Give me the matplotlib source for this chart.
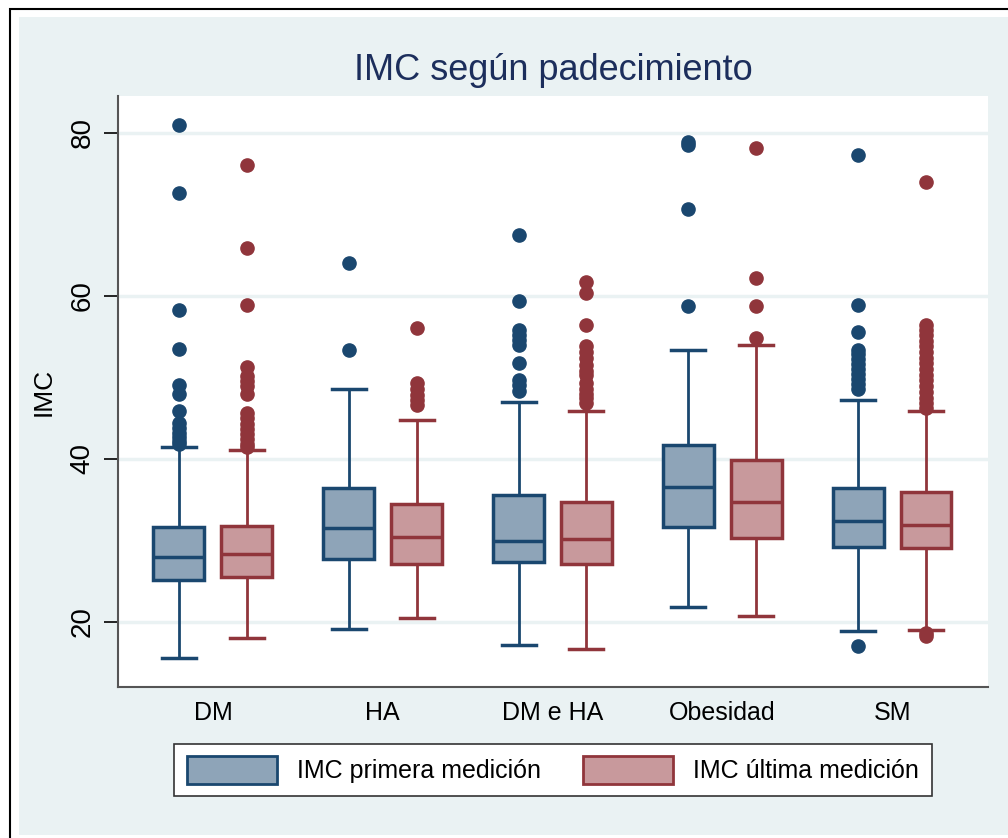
import matplotlib
matplotlib.use("Agg")
import matplotlib.pyplot as plt
from matplotlib.patches import Patch, Rectangle

plt.rcParams['font.family'] = ['Liberation Sans', 'DejaVu Sans']

grupos = ['DM', 'HA', 'DM e HA', 'Obesidad', 'SM']

# IMC primera medicion (box stats)
q1_primera = [25.1, 27.7, 27.3, 31.6, 29.2]
med_primera = [28.0, 31.5, 29.9, 36.5, 32.4]
q3_primera = [31.6, 36.4, 35.6, 41.7, 36.4]
lo_primera = [15.5, 19.1, 17.2, 21.8, 18.9]
hi_primera = [41.4, 48.6, 47.0, 53.3, 47.2]
out_primera = [
    [81.0, 72.6, 58.2, 53.5, 49.0, 47.9, 45.9, 44.4, 43.8, 43.2, 42.7, 42.2, 41.8],
    [64.0, 53.3],
    [67.4, 59.4, 55.8, 55.2, 54.6, 54.0, 51.7, 49.7, 49.0, 48.3],
    [78.8, 78.5, 70.6, 58.7],
    [77.3, 58.9, 55.6, 53.4, 52.8, 52.2, 51.6, 51.0, 50.4, 49.8, 49.2, 48.5, 17.0],
]

# IMC ultima medicion
q1_ultima = [25.5, 27.1, 27.1, 30.3, 29.1]
med_ultima = [28.3, 30.4, 30.1, 34.7, 31.9]
q3_ultima = [31.7, 34.4, 34.7, 39.9, 35.9]
lo_ultima = [18.0, 20.5, 16.7, 20.7, 19.0]
hi_ultima = [41.1, 44.8, 45.8, 54.0, 45.8]
out_ultima = [
    [76.0, 65.9, 58.8, 51.2, 50.1, 49.5, 48.9, 47.9, 45.6, 45.0, 44.3, 43.6, 43.0, 42.4, 41.8, 41.4],
    [56.0, 49.3, 48.5, 47.8, 47.2, 46.6],
    [61.7, 60.3, 56.4, 53.8, 53.1, 52.3, 51.5, 50.8, 50.3, 49.3, 48.6, 48.0, 47.4, 46.9],
    [78.1, 62.2, 58.7, 54.8],
    [74.0, 56.4, 55.8, 55.2, 54.5, 53.8, 53.1, 52.4, 51.7, 51.0, 50.3, 49.6, 48.9,
     48.2, 47.5, 46.8, 46.2, 18.6, 18.3],
]

azul, azul_fill = '#1a476f', '#8ea4b8'
rojo, rojo_fill = '#90353b', '#c8999c'
fondo = '#eaf2f3'


def stats(q1, med, q3, lo, hi, out):
    return [dict(q1=a, med=b, q3=c, whislo=d, whishi=e, fliers=f)
            for a, b, c, d, e, f in zip(q1, med, q3, lo, hi, out)]


fig = plt.figure(figsize=(10.08, 8.38), dpi=100)
fig.patches.append(Rectangle((10 / 1008, -0.01), 1.1, 1 - 9 / 838 + 0.01, transform=fig.transFigure,
                             facecolor='white', edgecolor='black', lw=1.5, zorder=-3))
fig.patches.append(Rectangle((19 / 1008, 1 - 835 / 838), 1.0, (835 - 17) / 838, transform=fig.transFigure,
                             facecolor=fondo, edgecolor='none', zorder=-2))

ax = fig.add_axes([118 / 1008, 1 - 687 / 838, 870 / 1008, (687 - 96) / 838])
ax.set_facecolor('white')

centros = list(range(1, len(grupos) + 1))
for st, pos, col, fill in [
    (stats(q1_primera, med_primera, q3_primera, lo_primera, hi_primera, out_primera),
     [c - 0.2 for c in centros], azul, azul_fill),
    (stats(q1_ultima, med_ultima, q3_ultima, lo_ultima, hi_ultima, out_ultima),
     [c + 0.2 for c in centros], rojo, rojo_fill),
]:
    ax.bxp(st, positions=pos, widths=0.3, capwidths=0.2, patch_artist=True,
           manage_ticks=False,
           boxprops=dict(facecolor=fill, edgecolor=col, linewidth=2.5),
           medianprops=dict(color=col, linewidth=2.5),
           whiskerprops=dict(color=col, linewidth=2),
           capprops=dict(color=col, linewidth=2.5),
           flierprops=dict(marker='o', markerfacecolor=col, markeredgecolor=col,
                           markersize=9.5, linestyle='none'))

ax.set_xlim(0.441, 5.565)
ax.set_ylim(12.0, 84.5)
ax.set_xticks(centros)
ax.set_xticklabels(grupos, fontsize=18)
ax.tick_params(axis='x', length=0, pad=10)
ax.set_yticks([20, 40, 60, 80])
ax.set_yticklabels(['20', '40', '60', '80'], rotation=90, va='center', fontsize=20)
ax.tick_params(axis='y', length=10, width=1.2, pad=6)
ax.yaxis.grid(True, color=fondo, linewidth=2.5)
ax.set_axisbelow(True)
for s in ['top', 'right']:
    ax.spines[s].set_visible(False)
for s in ['left', 'bottom']:
    ax.spines[s].set_color('#555555')
    ax.spines[s].set_linewidth(1.5)
ax.set_ylabel('IMC', fontsize=19, labelpad=10)

fig.text(553 / 1008, 1 - 70 / 838, 'IMC según padecimiento', ha='center', va='center',
         fontsize=26, color='#1c2e5c')

handles = [Patch(facecolor=azul_fill, edgecolor=azul, linewidth=2),
           Patch(facecolor=rojo_fill, edgecolor=rojo, linewidth=2)]
leg = fig.legend(handles, ['IMC primera medición', 'IMC última medición'], ncol=2,
                 loc='center', bbox_to_anchor=(553 / 1008, 1 - 770 / 838), fontsize=18,
                 fancybox=False, framealpha=1, edgecolor='#333333', handlelength=3.6,
                 handleheight=1.3, columnspacing=1.7, borderpad=0.5)
leg.get_frame().set_linewidth(1.2)

fig.savefig('out.png', dpi=100)
